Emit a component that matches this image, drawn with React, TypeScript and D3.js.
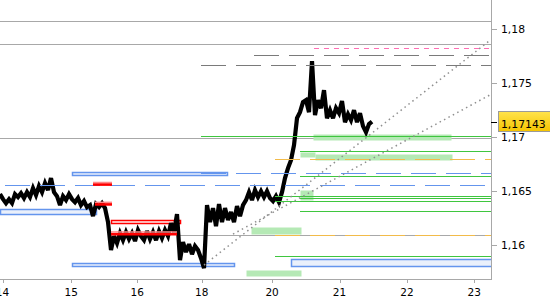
import React from "react";
import * as d3 from "d3";

const W = 550;
const H = 300;
const plotRight = 491;
const plotBottom = 279;

// x axis: trading-day index (weekend gaps removed)
const dayTickValues = [0, 1.02, 2, 2.955, 4, 5, 6, 7];
const dayTickLabels = ["14", "15", "16", "18", "20", "21", "22", "23"];

// y axis
const priceTicks = [1.16, 1.165, 1.17, 1.175, 1.18];
const priceTickLabels = ["1,16", "1,165", "1,17", "1,175", "1,18"];
const lastPrice = 1.17143;
const lastPriceLabel = "1,17143";

// price series
const seriesStartDay = -0.037;
const seriesStepDay = 0.04451;
const prices = [
  1.16472, 1.16425, 1.16388, 1.16425, 1.16388, 1.16472, 1.16444, 1.16481, 1.16435, 1.1649,
  1.16444, 1.16527, 1.16462, 1.16546, 1.1649, 1.16574, 1.16509, 1.1662, 1.1649, 1.16453,
  1.1637, 1.16453, 1.16416, 1.16472, 1.16425, 1.16397, 1.16435, 1.1637, 1.16407, 1.16351,
  1.1637, 1.16268, 1.16379, 1.16351, 1.16388, 1.16342, 1.16212, 1.15953, 1.16082, 1.16017,
  1.1611, 1.16045, 1.16119, 1.16055, 1.1611, 1.16036, 1.16138, 1.16082, 1.16045, 1.16129,
  1.16055, 1.16119, 1.16045, 1.16129, 1.16064, 1.16138, 1.16082, 1.16203, 1.16119, 1.16286,
  1.1586, 1.16027, 1.15934, 1.16008, 1.15915, 1.1599, 1.15953, 1.15878, 1.15786, 1.1637,
  1.16212, 1.16342, 1.16175, 1.16379, 1.16212, 1.16342, 1.16231, 1.16305, 1.16212, 1.1636,
  1.16268, 1.1637, 1.16416, 1.1649, 1.16416, 1.16509, 1.16444, 1.16499, 1.16444, 1.16499,
  1.16435, 1.16407, 1.16453, 1.16397, 1.1649, 1.1662, 1.16713, 1.16787, 1.16926, 1.17176,
  1.17232, 1.17325, 1.17343, 1.17232, 1.17705, 1.17204, 1.17343, 1.17269, 1.17436, 1.17176,
  1.1725, 1.17176, 1.17269, 1.17223, 1.17334, 1.17139, 1.17213, 1.17158, 1.1725, 1.17139,
  1.17223, 1.17102, 1.17046, 1.17121, 1.17143,
];

// horizontal levels: price and start day
const grayLevels = [
  { p: 1.18075, from: -0.04 },
  { p: 1.17862, from: -0.04 },
  { p: 1.16991, from: -0.04 },
  { p: 1.16092, from: 2.589 },
];
const darkDashLevels = [
  { p: 1.1776, from: 3.731 },
  { p: 1.17668, from: 2.945 },
];
const pinkDashLevels = [{ p: 1.17822, from: 4.622 }];
const greenLevels = [
  { p: 1.17009, from: 2.945 },
  { p: 1.1687, from: 4.414 },
  { p: 1.16639, from: 4.414 },
  { p: 1.16453, from: 4.043 },
  { p: 1.16432, from: 4.414 },
  { p: 1.16407, from: 4.043 },
  { p: 1.16314, from: 4.414 },
  { p: 1.15897, from: 4.043 },
];
const orangeDashLevels = [
  { p: 1.16796, from: 4.043 },
  { p: 1.16092, from: 4.043 },
];
const blueDashLevels = [
  { p: 1.16664, from: 2.945 },
  { p: 1.16555, from: 0.037 },
];
const redLevels = [
  { p: 1.16563, from: 1.343, to: 1.625 },
  { p: 1.16379, from: 1.372, to: 1.625 },
  { p: 1.16103, from: 1.61, to: 2.589 },
];

// zones
const greenZones = [
  { top: 1.17028, bottom: 1.1697, from: 4.607, to: 6.654 },
  { top: 1.16861, bottom: 1.16815, from: 4.414, to: 4.636 },
  { top: 1.16847, bottom: 1.16796, from: 4.636, to: 6.669 },
  { top: 1.16509, bottom: 1.16416, from: 4.414, to: 4.607 },
  { top: 1.16166, bottom: 1.16101, from: 3.687, to: 4.429 },
  { top: 1.15767, bottom: 1.15711, from: 3.613, to: 4.429 },
];
const blueZones = [
  { top: 1.1668, bottom: 1.16648, from: 1.031, to: 3.331 },
  { top: 1.16333, bottom: 1.16291, from: -0.037, to: 1.387 },
  { top: 1.15832, bottom: 1.15804, from: 1.031, to: 3.435 },
  { top: 1.15869, bottom: 1.158, from: 4.28, to: 7.4 },
];
const redZones = [{ top: 1.16231, bottom: 1.16203, from: 1.61, to: 2.634 }];

// trend lines
const trendLines = [
  { d1: 2.99, p1: 1.15814, d2: 7.248, p2: 1.17905 },
  { d1: 3.42, p1: 1.16101, d2: 7.248, p2: 1.17397 },
];

const FONT = "'DejaVu Sans', Verdana, sans-serif";

export default function App() {
  const x = d3.scaleLinear().domain([0, 7]).range([2.5, 474.3]);
  const y = d3.scaleLinear().domain([1.16, 1.18]).range([245, 29.3]);
  const yc = (p: number) => Math.round(y(p)) + 0.5;

  const line = d3
    .line<number>()
    .x((_, i) => x(seriesStartDay + i * seriesStepDay))
    .y((d) => y(d));

  const hLine = (
    lv: { p: number; from: number; to?: number },
    key: string,
    stroke: string,
    dash?: string,
    width = 1
  ) => (
    <line
      key={key}
      x1={x(lv.from)}
      x2={lv.to !== undefined ? x(lv.to) : plotRight}
      y1={yc(lv.p)}
      y2={yc(lv.p)}
      stroke={stroke}
      strokeWidth={width}
      strokeDasharray={dash}
      shapeRendering="crispEdges"
    />
  );

  const zone = (
    z: { top: number; bottom: number; from: number; to: number },
    key: string,
    fill: string,
    stroke?: string
  ) => {
    const x1 = x(z.from);
    const x2 = Math.min(x(z.to), plotRight + 5);
    const y1 = y(z.top);
    const y2 = y(z.bottom);
    return (
      <rect
        key={key}
        x={Math.round(x1) + 0.5}
        y={Math.round(y1) + 0.5}
        width={Math.round(x2 - x1)}
        height={Math.max(2, Math.round(y2 - y1))}
        fill={fill}
        stroke={stroke || "none"}
        strokeWidth={stroke ? 1.5 : 0}
      />
    );
  };

  return (
    <svg
      width={W}
      height={H}
      style={{ position: "absolute", left: 0, top: 0, background: "#fff" }}
    >
      <defs>
        <clipPath id="plot">
          <rect x={0} y={0} width={plotRight} height={plotBottom} />
        </clipPath>
        <linearGradient id="gold" x1="0" y1="0" x2="0" y2="1">
          <stop offset="0" stopColor="#ffe34d" />
          <stop offset="1" stopColor="#f5c400" />
        </linearGradient>
      </defs>
      <rect x={0} y={0} width={W} height={H} fill="#fff" />

      <g clipPath="url(#plot)">
        {grayLevels.map((l, i) => hLine(l, "g" + i, "#a8a8a8"))}
        {greenZones.map((z, i) => zone(z, "gz" + i, "#b5e9b5"))}
        {blueZones.map((z, i) => zone(z, "bz" + i, "#eaf0fb", "#6495ed"))}
        {redZones.map((z, i) => zone(z, "rz" + i, "#fff4f4", "#ff0000"))}

        <path
          d={line(prices) || ""}
          fill="none"
          stroke="#000"
          strokeWidth={4.2}
          strokeLinejoin="miter"
          strokeMiterlimit={3}
        />

        {darkDashLevels.map((l, i) => hLine(l, "dd" + i, "#7a7a7a", "25,10"))}
        {pinkDashLevels.map((l, i) => hLine(l, "pk" + i, "#ff6eb4", "5,5"))}
        {orangeDashLevels.map((l, i) => hLine(l, "or" + i, "#f2bb4a", "25,10"))}
        {blueDashLevels.map((l, i) => hLine(l, "bl" + i, "#6495ed", "25,10", 1.5))}
        {greenLevels.map((l, i) => hLine(l, "gr" + i, "#3fc63f"))}
        {redLevels.map((l, i) => (
          <g key={"rd" + i}>
            <line
              x1={x(l.from)}
              x2={x(l.to)}
              y1={y(l.p) - 1.8}
              y2={y(l.p) - 1.8}
              stroke="#ff8a8a"
              strokeWidth={1.5}
            />
            <line
              x1={x(l.from)}
              x2={x(l.to)}
              y1={y(l.p) + 0.3}
              y2={y(l.p) + 0.3}
              stroke="#ff0000"
              strokeWidth={2.6}
            />
          </g>
        ))}
        {trendLines.map((t, i) => (
          <line
            key={"t" + i}
            x1={x(t.d1)}
            y1={y(t.p1)}
            x2={x(t.d2)}
            y2={y(t.p2)}
            stroke="#8f8f8f"
            strokeWidth={1.5}
            strokeDasharray="1.5,3.5"
          />
        ))}
      </g>

      {/* axes */}
      <line x1={0} x2={plotRight} y1={plotBottom + 0.5} y2={plotBottom + 0.5} stroke="#a8a8a8" strokeWidth={1} />
      <line x1={plotRight + 0.5} x2={plotRight + 0.5} y1={0} y2={plotBottom + 1} stroke="#a8a8a8" strokeWidth={1} />

      {dayTickValues.map((d, i) => (
        <g key={"xt" + i}>
          <line
            x1={Math.round(x(d)) + 0.5}
            x2={Math.round(x(d)) + 0.5}
            y1={plotBottom}
            y2={plotBottom + 4}
            stroke="#a8a8a8"
          />
          <text
            x={x(d)}
            y={296}
            textAnchor="middle"
            fontFamily={FONT}
            fontSize={10.5}
            fill="#000"
          >
            {dayTickLabels[i]}
          </text>
        </g>
      ))}

      {priceTicks.map((p, i) => (
        <g key={"yt" + i}>
          <line
            x1={plotRight}
            x2={plotRight + 6}
            y1={yc(p)}
            y2={yc(p)}
            stroke="#a8a8a8"
          />
          <text
            x={501}
            y={y(p) + 4}
            fontFamily={FONT}
            fontSize={10.8}
            fill="#000"
          >
            {priceTickLabels[i]}
          </text>
        </g>
      ))}

      {/* last price marker */}
      <line x1={plotRight} x2={plotRight + 6} y1={yc(lastPrice)} y2={yc(lastPrice)} stroke="#000" />
      <rect
        x={498.5}
        y={Math.round(y(lastPrice)) - 10.5}
        width={52}
        height={20}
        fill="url(#gold)"
        stroke="#9a9a9a"
      />
      <text
        x={501}
        y={y(lastPrice) + 6.5}
        fontFamily={FONT}
        fontSize={10.8}
        fill="#000"
      >
        {lastPriceLabel}
      </text>
    </svg>
  );
}
